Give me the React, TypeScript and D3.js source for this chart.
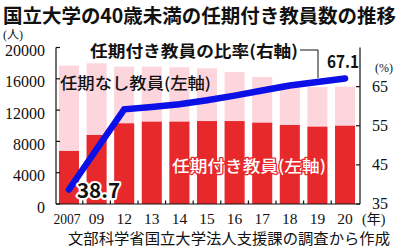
import React from "react";
import * as d3 from "d3";

const categories = ["2007", "09", "12", "13", "14", "15", "16", "17", "18", "19", "20"];
const totalTeachers = [17680, 17980, 17550, 17550, 17470, 17340, 16870, 16230, 15460, 14950, 15000];
const fixedTermTeachers = [6780, 8820, 10310, 10520, 10520, 10600, 10600, 10390, 10100, 9880, 10000];
const fixedTermRatio = [38.7, 49.0, 59.2, 59.8, 60.5, 61.5, 62.7, 64.0, 65.3, 66.2, 67.1];
const leftTicks = [0, 4000, 8000, 12000, 16000, 20000];
const rightTicks = [35, 45, 55, 65];

const TITLE = "国立大学の40歳未満の任期付き教員数の推移";
const SOURCE = "文部科学省国立大学法人支援課の調査から作成";

const SANS = "'Noto Sans CJK JP', 'Noto Sans', sans-serif";
const SERIF = "'Liberation Serif', 'DejaVu Serif', 'Noto Sans CJK JP', serif";

const RED = "#e8292c";
const PINK = "#fcd5dd";
const BLUE = "#0b10e6";

export default function App() {
  const left = 56;
  const right = 360;
  const top = 47.5;
  const bottom = 204;

  const x = d3
    .scaleBand<string>()
    .domain(categories)
    .range([left, 358])
    .paddingInner(0.275)
    .paddingOuter(0.108);
  const yL = d3.scaleLinear().domain([0, 20000]).range([bottom, top]);
  const yR = d3.scaleLinear().domain([35, 75]).range([bottom, top]);

  const bw = x.bandwidth();
  const gap = x.step() - bw;

  const line = d3
    .line<number>()
    .x((_, i) => (x(categories[i]) as number) + bw / 2)
    .y((d) => yR(d));

  const lastX = (x(categories[categories.length - 1]) as number) + bw / 2;

  return (
    <svg
      width={400}
      height={250}
      style={{ position: "absolute", left: 0, top: 0, background: "#fff" }}
    >
      <rect x={0} y={0} width={400} height={250} fill="#fff" />
      {/* title */}
      <text
        x={3}
        y={22.6}
        fontFamily={SANS}
        fontWeight={700}
        fontSize={19.5}
        textLength={393}
        lengthAdjust="spacingAndGlyphs"
        fill="#111"
      >
        {TITLE}
      </text>
      <text x={3} y={39} fontFamily={SERIF} fontSize={12} fill="#111">
        (人)
      </text>

      {/* bars */}
      {categories.map((c, i) => (
        <g key={c}>
          <rect
            x={x(c)}
            y={yL(totalTeachers[i])}
            width={bw}
            height={bottom - yL(totalTeachers[i])}
            fill={PINK}
          />
          <rect
            x={x(c)}
            y={yL(fixedTermTeachers[i])}
            width={bw}
            height={bottom - yL(fixedTermTeachers[i])}
            fill={RED}
          />
        </g>
      ))}

      {/* axes */}
      <g stroke="#111" strokeWidth={1.2} fill="none">
        <line x1={left} x2={left} y1={top} y2={bottom} />
        <line x1={right} x2={right} y1={top} y2={bottom} />
        <line x1={left} x2={right} y1={bottom} y2={bottom} />
        {leftTicks.map((t) => (
          <line key={t} x1={left} x2={left + 4} y1={yL(t)} y2={yL(t)} />
        ))}
        {rightTicks.map((t) => (
          <line key={t} x1={right - 4} x2={right} y1={yR(t)} y2={yR(t)} />
        ))}
        {categories.slice(1).map((c) => {
          const xx = (x(c) as number) - gap / 2;
          return <line key={c} x1={xx} x2={xx} y1={bottom} y2={bottom - 3.5} />;
        })}
      </g>

      {leftTicks.map((t) => (
        <text
          key={t}
          x={45}
          y={yL(t) + 8.5}
          textAnchor="end"
          fontFamily={SERIF}
          fontSize={16}
          fill="#111"
        >
          {t}
        </text>
      ))}
      {rightTicks.map((t) => (
        <text
          key={t}
          x={372}
          y={yR(t) + 5}
          fontFamily={SERIF}
          fontSize={16}
          fill="#111"
        >
          {t}
        </text>
      ))}
      <text x={375} y={72} fontFamily={SERIF} fontSize={12} fill="#111">
        (%)
      </text>

      {categories.map((c) => (
        <text
          key={c}
          x={(x(c) as number) + bw / 2 - (c === "2007" ? 2 : 0)}
          y={224}
          textAnchor="middle"
          fontFamily={SERIF}
          fontSize={15.5}
          fill="#111"
          textLength={c === "2007" ? 27 : undefined}
          lengthAdjust="spacingAndGlyphs"
        >
          {c}
        </text>
      ))}
      <text x={362} y={224} fontFamily={SERIF} fontSize={14} fill="#111">
        (年)
      </text>

      <text
        x={68}
        y={244}
        fontFamily={SANS}
        fontSize={15}
        fontWeight={400}
        textLength={322}
        lengthAdjust="spacingAndGlyphs"
        fill="#111"
      >
        {SOURCE}
      </text>

      {/* ratio line */}
      <path
        d={line(fixedTermRatio) || ""}
        fill="none"
        stroke={BLUE}
        strokeWidth={6.5}
        strokeLinecap="round"
        strokeLinejoin="miter"
      />

      {/* annotations */}
      <text
        x={90}
        y={56.5}
        fontFamily={SANS}
        fontWeight={700}
        fontSize={16}
        textLength={208}
        lengthAdjust="spacingAndGlyphs"
        fill="#111"
      >
        任期付き教員の比率(右軸)
      </text>
      <polyline
        points={`300,50 318,50 318,${yR(fixedTermRatio[9]) - 4}`}
        fill="none"
        stroke="#111"
        strokeWidth={1}
      />
      <text
        x={lastX - 18}
        y={68.3}
        fontFamily={SANS}
        fontWeight={700}
        fontSize={17.5}
        textLength={32}
        lengthAdjust="spacingAndGlyphs"
        fill="#111"
      >
        {fixedTermRatio[fixedTermRatio.length - 1]}
      </text>
      <text
        x={60}
        y={88.5}
        fontFamily={SANS}
        fontWeight={500}
        fontSize={15.5}
        textLength={151}
        lengthAdjust="spacingAndGlyphs"
        fill="#111"
      >
        任期なし教員(左軸)
      </text>
      <text
        x={172}
        y={172}
        fontFamily={SANS}
        fontWeight={500}
        fontSize={16}
        textLength={154}
        lengthAdjust="spacingAndGlyphs"
        fill="#fff"
        stroke={RED}
        strokeWidth={2.5}
        paintOrder="stroke"
        strokeLinejoin="round"
      >
        任期付き教員(左軸)
      </text>
      <text
        x={77}
        y={198}
        fontFamily={SANS}
        fontWeight={700}
        fontSize={20}
        textLength={43}
        lengthAdjust="spacingAndGlyphs"
        fill="#111"
        stroke="#fff"
        strokeWidth={4}
        paintOrder="stroke"
        strokeLinejoin="round"
      >
        {fixedTermRatio[0]}
      </text>
    </svg>
  );
}
